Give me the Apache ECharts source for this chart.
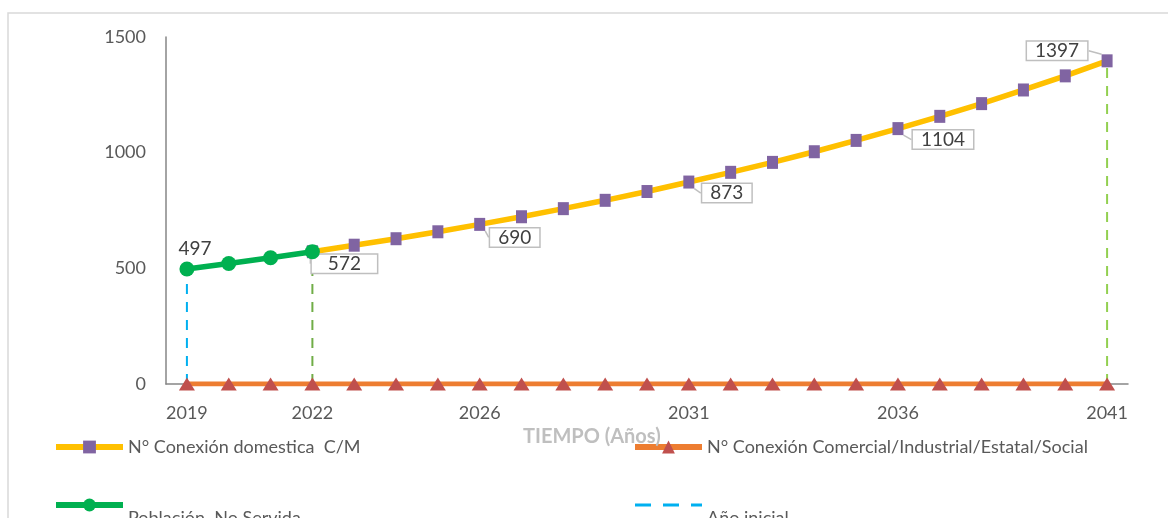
<!DOCTYPE html>
<html>
<head>
<meta charset="utf-8">
<script src="https://cdn.jsdelivr.net/npm/echarts@6/dist/echarts.min.js"></script>
<style>
  html, body { margin: 0; padding: 0; background: #fff; }
  #chart { width: 1168px; height: 518px; }
</style>
</head>
<body>
<div id="chart"></div>
<script>
// datos
var years = ['2019', '2020', '2021', '2022', '2023', '2024', '2025', '2026', '2027', '2028', '2029', '2030',
    '2031', '2032', '2033', '2034', '2035', '2036', '2037', '2038', '2039', '2040', '2041'];
var shownYears = ['2019', '2022', '2026', '2031', '2036', '2041'];
var domestica = ['-', '-', '-', 572, 600, 628, 658, 690, 723, 758, 794, 832,
    873, 915, 958, 1004, 1053, 1104, 1157, 1212, 1271, 1332, 1397];
var comercial = [0, 0, 0, 0, 0, 0, 0, 0, 0, 0, 0, 0, 0, 0, 0, 0, 0, 0, 0, 0, 0, 0, 0];
var poblacion = [497, 521, 546, 572];
var labeledYears = ['2022', '2026', '2031', '2036', '2041'];
var anioInicial = [['2019', 0], ['2019', 497]];
var anioActual = [['2022', 0], ['2022', 572]];
var anioFinal = [['2041', 0], ['2041', 1397]];
var lowNames = ['Población  No Servida', 'Año inicial'];

var fontFamily = 'Lato, "Open Sans", sans-serif';

// caja de etiqueta
function calloutLabel(year) {
    return {
        show: true,
        position: 'inside',
        formatter: '{c}',
        color: '#404040',
        fontSize: 19,
        fontFamily: fontFamily,
        backgroundColor: '#fff',
        borderColor: '#BFBFBF',
        borderWidth: 1.5,
        padding: year === '2022' ? [0, 16, -1, 16] : [0, 8, -1, 8]
    };
}

function domesticaData() {
    var data = [];
    for (var i = 0; i < domestica.length; i++) {
        if (labeledYears.indexOf(years[i]) >= 0) {
            data.push({ value: domestica[i], label: calloutLabel(years[i]) });
        } else {
            data.push(domestica[i]);
        }
    }
    return data;
}

function calloutLayout(params) {
    var y = years[params.dataIndex];
    if (y === '2041') return { dx: -50, dy: -10 };
    if (y === '2036') return { dx: 45, dy: 11 };
    if (y === '2031') return { dx: 38, dy: 11 };
    if (y === '2022') return { dx: 32, dy: 12 };
    return { dx: 35, dy: 13 };
}

// la segunda fila del leyenda queda cortada abajo
function legendFormatter(name) {
    return lowNames.indexOf(name) >= 0 ? '\n' + name : name;
}

var legendText = { color: '#595959', fontSize: 18, lineHeight: 26, fontFamily: fontFamily };

var option = {
    animation: false,
    textStyle: { fontFamily: fontFamily },
    title: {
        text: 'TIEMPO (Años)',
        left: 518,
        top: 422,
        textStyle: { color: '#BFBFBF', fontSize: 20, fontWeight: 'bold', fontFamily: fontFamily }
    },
    graphic: [{
        type: 'rect',
        shape: { x: 8, y: 13, width: 1180, height: 530 },
        style: { fill: 'none', stroke: '#D9D9D9', lineWidth: 1.5 },
        silent: true
    }],
    legend: [{
        orient: 'vertical',
        left: 48,
        top: 429,
        height: 200,
        itemWidth: 67,
        itemHeight: 16,
        itemGap: 19,
        formatter: legendFormatter,
        data: [
            { name: 'N° Conexión domestica  C/M', lineStyle: { width: 6 } },
            { name: 'Población  No Servida', lineStyle: { width: 6 } }
        ],
        textStyle: legendText
    }, {
        orient: 'vertical',
        left: 627,
        top: 429,
        height: 200,
        itemWidth: 67,
        itemHeight: 16,
        itemGap: 19,
        formatter: legendFormatter,
        data: [
            { name: 'N° Conexión Comercial/Industrial/Estatal/Social', lineStyle: { width: 6 } },
            { name: 'Año inicial', lineStyle: { width: 3, type: [16, 12] }, itemStyle: { opacity: 0 } }
        ],
        textStyle: legendText
    }],
    grid: { left: 166, right: 40, top: 37, bottom: 134 },
    xAxis: {
        type: 'category',
        data: years,
        boundaryGap: true,
        axisLine: { lineStyle: { color: '#868686', width: 1.5 } },
        axisTick: { show: false },
        axisLabel: {
            color: '#595959',
            fontSize: 18,
            margin: 20,
            interval: function (index, value) {
                return shownYears.indexOf(value) >= 0;
            }
        }
    },
    yAxis: {
        type: 'value',
        min: 0,
        max: 1500,
        interval: 500,
        splitLine: { show: false },
        axisLine: { show: true, lineStyle: { color: '#868686', width: 1.5 } },
        axisTick: { show: false },
        axisLabel: {
            color: '#595959',
            fontSize: 18,
            margin: 20,
            formatter: function (v) { return String(v); }
        }
    },
    series: [{
        name: 'N° Conexión Comercial/Industrial/Estatal/Social',
        type: 'line',
        data: comercial,
        symbol: 'triangle',
        symbolSize: [16, 13],
        lineStyle: { color: '#ED7D31', width: 5 },
        itemStyle: { color: '#C0504D' },
        z: 3
    }, {
        name: 'Año inicial',
        type: 'line',
        data: anioInicial,
        symbol: 'none',
        lineStyle: { color: '#00B0F0', width: 2, type: [10, 8] },
        itemStyle: { color: '#00B0F0' },
        z: 2
    }, {
        name: 'Año actual',
        type: 'line',
        data: anioActual,
        symbol: 'none',
        lineStyle: { color: '#70AD47', width: 2, type: [10, 8] },
        itemStyle: { color: '#70AD47' },
        z: 2
    }, {
        name: 'Año final',
        type: 'line',
        data: anioFinal,
        symbol: 'none',
        lineStyle: { color: '#92D050', width: 2, type: [10, 8] },
        itemStyle: { color: '#92D050' },
        z: 2
    }, {
        name: 'N° Conexión domestica  C/M',
        type: 'line',
        data: domesticaData(),
        symbol: 'rect',
        symbolSize: [11, 13],
        showAllSymbol: true,
        lineStyle: { color: '#FFC000', width: 5.5 },
        itemStyle: { color: '#8064A2' },
        labelLayout: calloutLayout,
        labelLine: { show: true, lineStyle: { color: '#BFBFBF', width: 1.5 } },
        z: 4
    }, {
        name: 'Población  No Servida',
        type: 'line',
        data: poblacion,
        symbol: 'circle',
        symbolSize: 15,
        lineStyle: { color: '#00B050', width: 5.5 },
        itemStyle: { color: '#00B050' },
        label: {
            show: true,
            position: 'top',
            offset: [8, 2],
            color: '#404040',
            fontSize: 19,
            formatter: function (p) { return p.dataIndex === 0 ? p.value : ''; }
        },
        z: 5
    }]
};

var chart = echarts.init(document.getElementById('chart'));
chart.setOption(option);
</script>
</body>
</html>
